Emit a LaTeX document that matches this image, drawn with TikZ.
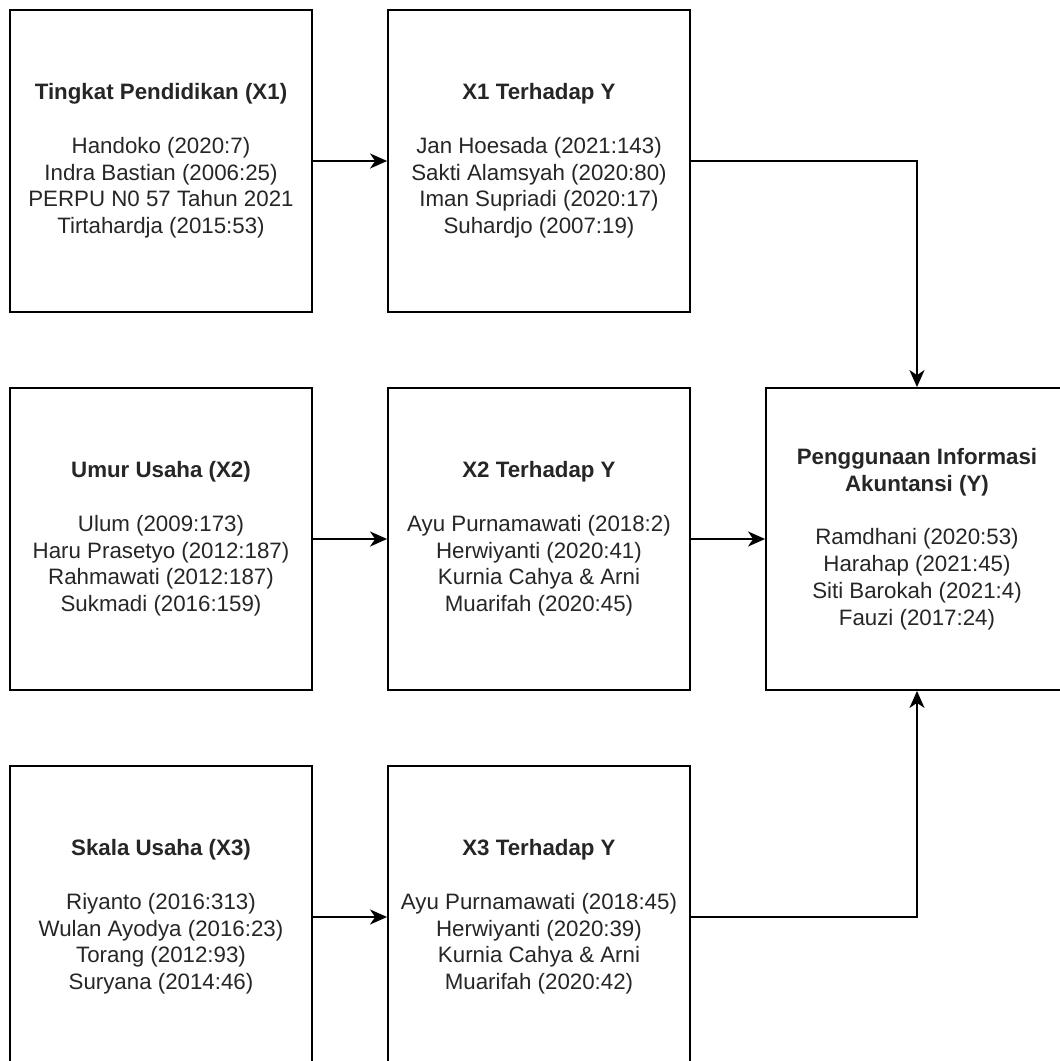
\documentclass[tikz,border=0pt]{standalone}
\usepackage{fontspec}
\setmainfont{Liberation Sans}
\usetikzlibrary{arrows.meta}
\begin{document}
\begin{tikzpicture}[x=1pt,y=-1pt,
  box/.style={draw=black, line width=1.8pt, fill=white, minimum width=302pt, minimum height=302pt,
    inner sep=0pt, align=center, text=black!85, font={\fontsize{22.3}{26.8}\selectfont}},
  arr/.style={draw=black, line width=1.8pt, -{Stealth[length=17pt,width=15pt,inset=5pt]}}]
\clip (0,0) rectangle (1060,1061);
\fill[white] (0,0) rectangle (1060,1061);
\node[box] (x1) at (161,161) {\textbf{Tingkat Pendidikan (X1)}\\[26.8pt]Handoko (2020:7)\\Indra Bastian (2006:25)\\PERPU N0 57 Tahun 2021\\Tirtahardja (2015:53)};
\node[box] (x1y) at (539,161) {\textbf{X1 Terhadap Y}\\[26.8pt]Jan Hoesada (2021:143)\\Sakti Alamsyah (2020:80)\\Iman Supriadi (2020:17)\\Suhardjo (2007:19)};
\node[box] (x2) at (161,539) {\textbf{Umur Usaha (X2)}\\[26.8pt]Ulum (2009:173)\\Haru Prasetyo (2012:187)\\Rahmawati (2012:187)\\Sukmadi (2016:159)};
\node[box] (x2y) at (539,539) {\textbf{X2 Terhadap Y}\\[26.8pt]Ayu Purnamawati (2018:2)\\Herwiyanti (2020:41)\\Kurnia Cahya \& Arni\\Muarifah (2020:45)};
\node[box] (y) at (917,539) {\textbf{Penggunaan Informasi}\\\textbf{Akuntansi (Y)}\\[26.8pt]Ramdhani (2020:53)\\Harahap (2021:45)\\Siti Barokah (2021:4)\\Fauzi (2017:24)};
\node[box] (x3) at (161,917) {\textbf{Skala Usaha (X3)}\\[26.8pt]Riyanto (2016:313)\\Wulan Ayodya (2016:23)\\Torang (2012:93)\\Suryana (2014:46)};
\node[box] (x3y) at (539,917) {\textbf{X3 Terhadap Y}\\[26.8pt]Ayu Purnamawati (2018:45)\\Herwiyanti (2020:39)\\Kurnia Cahya \& Arni\\Muarifah (2020:42)};
\draw[arr] (x1.east) -- (x1y.west);
\draw[arr] (x2.east) -- (x2y.west);
\draw[arr] (x3.east) -- (x3y.west);
\draw[arr] (x2y.east) -- (y.west);
\draw[arr] (x1y.east) -| (y.north);
\draw[arr] (x3y.east) -| (y.south);
\end{tikzpicture}
\end{document}
